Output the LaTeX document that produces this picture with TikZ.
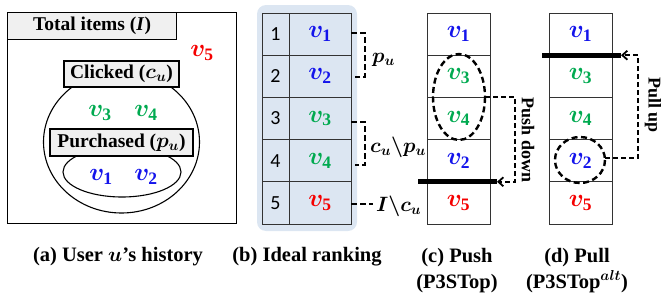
\documentclass[tikz,border=0pt]{standalone}
\usepackage{amsmath,bm}
\usepackage{fontspec}
\setmainfont{Liberation Serif}
\newfontfamily\numfont{Carlito}
\usetikzlibrary{arrows.meta}
\definecolor{vblue}{RGB}{20,20,235}
\definecolor{vgreen}{RGB}{0,170,80}
\definecolor{vred}{RGB}{245,0,0}
\definecolor{hdrgray}{RGB}{240,240,240}
\definecolor{bgblue}{RGB}{220,230,242}
\newcommand{\itm}[1]{$\bm{v}_{\mathbf{#1}}$}
\tikzset{
  hdr/.style={draw, line width=1.1pt, fill=hdrgray, inner sep=0pt, font=\fontsize{19.5}{22}\selectfont\bfseries},
  vtxt/.style={inner sep=0pt, font=\fontsize{25}{28}\selectfont},
  cell/.style={draw=black!80, line width=0.9pt, inner sep=0pt, minimum height=42.2pt},
  numcell/.style={cell, minimum width=27pt, font=\fontsize{20}{24}\selectfont\numfont},
  valcell/.style={cell, minimum width=62pt, font=\fontsize{25}{28}\selectfont},
  rcell/.style={cell, minimum width=63pt, font=\fontsize{25}{28}\selectfont},
  brk/.style={line width=2.4pt, dash pattern=on 6pt off 3pt},
  lbl/.style={inner sep=0pt, font=\fontsize{20}{24}\selectfont},
  bar/.style={line width=5pt},
  dsh/.style={line width=2.4pt, dash pattern=on 6pt off 3.5pt},
  arr/.style={line width=1.8pt, dash pattern=on 5pt off 3pt, -{Straight Barb[length=5pt,width=9pt]}},
  captxt/.style={inner sep=0pt, align=center, font=\fontsize{20.5}{26}\selectfont\bfseries},
  rot/.style={inner sep=0pt, rotate=-90, font=\fontsize{18}{22}\selectfont\bfseries}
}
\begin{document}
\begin{tikzpicture}[x=1pt,y=-1pt]
\useasboundingbox (0,0) rectangle (664,297);
% ---------- (a)
\node[draw, line width=1.1pt, minimum width=229pt, minimum height=211pt, inner sep=0pt, anchor=north west] (outer) at (7,12) {};
\node[hdr, minimum width=169pt, minimum height=27pt, anchor=north west] (tot) at (7,12) {Total items (\textit{I})};
\node[vtxt, text=vred] (a5) at (202,53) {\itm{5}};
\draw[line width=1.1pt] (121.5,142) ellipse [x radius=78, y radius=71];
\draw[line width=1.1pt] (122,172) ellipse [x radius=59, y radius=25];
\node[hdr, minimum width=115pt, minimum height=26pt] (clk) at (121.5,74) {Clicked ($\bm{c_u}$)};
\node[hdr, minimum width=143pt, minimum height=27pt] (pur) at (121.5,142.5) {Purchased ($\bm{p_u}$)};
\node[vtxt, text=vgreen] (a3) at (100,113) {\itm{3}};
\node[vtxt, text=vgreen] (a4) at (146,113) {\itm{4}};
\node[vtxt, text=vblue] (a1) at (101,177) {\itm{1}};
\node[vtxt, text=vblue] (a2) at (146,177) {\itm{2}};
% ---------- (b)
\fill[bgblue, rounded corners=9pt] (257,5) rectangle (357,231);
\foreach \i/\v/\c in {1/1/vblue,2/2/vblue,3/3/vgreen,4/4/vgreen,5/5/vred}{
  \node[numcell] (bn\i) at (275.5,{13+42.2*(\i-0.5)}) {\i};
  \node[valcell, text=\c] (bv\i) at (320,{13+42.2*(\i-0.5)}) {\itm{\v}};
}
\draw[brk] (351,33) -- (365,33) -- (365,77) -- (355,77);
\node[lbl, anchor=west] (pu) at (372,60) {$\bm{p_u}$};
\draw[brk] (351,122) -- (365,122) -- (365,165) -- (355,165);
\node[lbl, anchor=west] (cp) at (370,147) {$\bm{c_u\backslash p_u}$};
\draw[brk] (351,204) -- (373,204);
\node[lbl, anchor=west] (ic) at (376,206) {$\bm{I\backslash c_u}$};
% ---------- (c)
\foreach \i/\v/\c in {1/1/vblue,2/3/vgreen,3/4/vgreen,4/2/vblue,5/5/vred}{
  \node[rcell, text=\c] (c\i) at (458.5,{13+42.2*(\i-0.5)}) {\itm{\v}};
}
\draw[dsh] (459,97) ellipse [x radius=26, y radius=43];
\coordinate (ce) at (485,97);
\coordinate (cb) at (497,181.8);
\draw[bar] (418,181.8) -- (cb);
\draw[arr] (ce) -- (515,97) -- (515,181.8) -- (cb);
\node[rot] (pd) at (528,140) {Push down};
% ---------- (d)
\foreach \i/\v/\c in {1/1/vblue,2/3/vgreen,3/4/vgreen,4/2/vblue,5/5/vred}{
  \node[rcell, text=\c] (d\i) at (580.5,{13+42.2*(\i-0.5)}) {\itm{\v}};
}
\draw[dsh] (580,160) ellipse [x radius=25, y radius=23];
\coordinate (de) at (605,158);
\coordinate (db) at (621,55.2);
\draw[bar] (542,55.2) -- (db);
\draw[arr] (de) -- (638,158) -- (638,55.2) -- (db);
\node[rot] (pl) at (653,105) {Pull up};
% ---------- captions
\node[captxt] (capa) at (118,257) {(a) User $\bm{u}$'s history};
\node[captxt] (capb) at (307,257) {(b) Ideal ranking};
\node[captxt, anchor=north] (capc) at (457,248) {(c) Push\\(P3STop)};
\node[captxt, anchor=north] (capd) at (577,248) {(d) Pull\\(P3STop$^{\bm{alt}}$)};
\end{tikzpicture}
\end{document}
